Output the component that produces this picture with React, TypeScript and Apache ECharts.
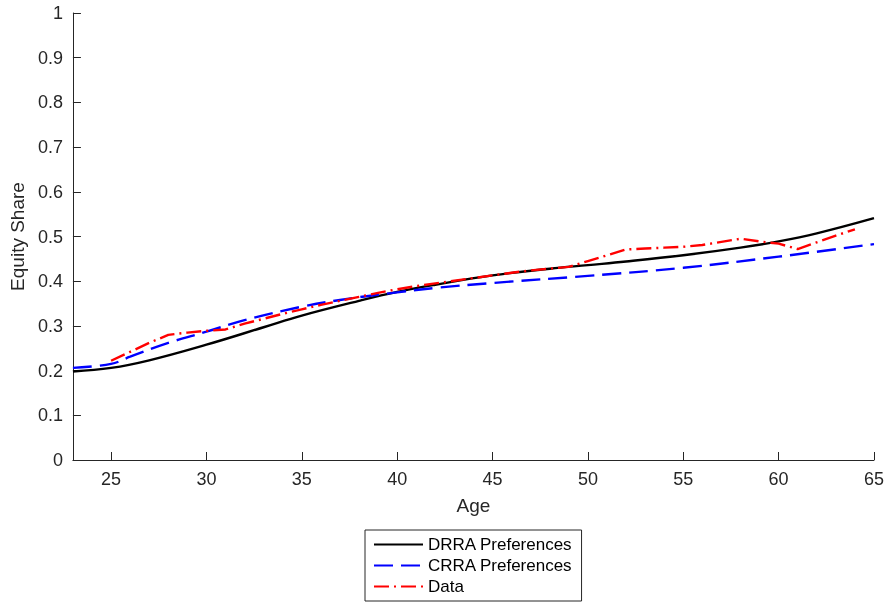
import React, { useEffect, useRef } from 'react';
import * as echarts from "echarts";

const ageTicks = [25, 30, 35, 40, 45, 50, 55, 60, 65];

const drraAges = [23, 25, 27, 30, 33, 35, 38, 40, 42, 45, 48, 50, 52, 55, 58, 60, 62, 65];
const drraValues = [0.198, 0.206, 0.223, 0.258, 0.297, 0.323, 0.356, 0.376, 0.392, 0.413, 0.428, 0.436, 0.444, 0.458, 0.475, 0.489, 0.507, 0.541];

const crraAges = [23, 25, 26, 28, 30, 32, 35, 37, 40, 42, 45, 50, 55, 60, 65];
const crraValues = [0.206, 0.215, 0.231, 0.262, 0.287, 0.313, 0.343, 0.358, 0.375, 0.385, 0.396, 0.412, 0.430, 0.455, 0.483];

const dataAges = [25, 26, 27, 28, 29, 30, 31, 32, 33, 34, 35, 36, 37, 38, 39, 40, 41, 42, 43, 44,
  45, 46, 47, 48, 49, 50, 51, 52, 53, 54, 55, 56, 57, 58, 59, 60, 61, 62, 63, 64];
const dataValues = [0.222, 0.242, 0.262, 0.280, 0.285, 0.289, 0.292, 0.305, 0.316, 0.327,
  0.337, 0.347, 0.356, 0.365, 0.374, 0.382, 0.389, 0.395, 0.401, 0.407,
  0.413, 0.419, 0.424, 0.428, 0.432, 0.445, 0.458, 0.471, 0.473, 0.475,
  0.477, 0.481, 0.488, 0.495, 0.489, 0.484, 0.472, 0.487, 0.502, 0.516];

const pairs = (xs: number[], ys: number[]) => xs.map((x, i) => [x, ys[i]]);

const axisColor = "#262626";
const font = "Liberation Sans, Arial, Helvetica, sans-serif";

const App = () => {
  const chartRef = useRef(null);

  useEffect(() => {
    const chart = echarts.init(chartRef.current, null, { renderer: "svg" });

    chart.setOption({
      animation: false,
      textStyle: { fontFamily: font },
      grid: { left: 72, right: 13, top: 13, bottom: 143 },
      legend: {
        orient: "vertical",
        left: 365,
        top: 530,
        borderColor: axisColor,
        borderWidth: 1,
        padding: [6, 9, 6, 8],
        itemWidth: 49,
        itemHeight: 14,
        itemGap: 4,
        itemStyle: { opacity: 0 },
        textStyle: { fontSize: 17, color: "#000", fontFamily: font },
        data: ["DRRA Preferences", "CRRA Preferences", "Data"],
      },
      xAxis: {
        type: "value",
        min: 23,
        max: 65,
        name: "Age",
        nameLocation: "middle",
        nameGap: 36,
        nameTextStyle: { fontSize: 19, color: axisColor },
        axisLine: { lineStyle: { color: axisColor, width: 1 } },
        axisTick: { inside: true, length: 8, customValues: ageTicks, lineStyle: { color: axisColor } },
        axisLabel: { customValues: ageTicks, fontSize: 18, color: axisColor, margin: 10 },
        splitLine: { show: false },
      },
      yAxis: {
        type: "value",
        min: 0,
        max: 1,
        interval: 0.1,
        name: "Equity Share",
        nameLocation: "middle",
        nameGap: 42,
        nameTextStyle: { fontSize: 19, color: axisColor },
        axisLine: { show: true, lineStyle: { color: axisColor, width: 1 } },
        axisTick: { show: true, inside: true, length: 8, lineStyle: { color: axisColor } },
        axisLabel: { fontSize: 18, color: axisColor, margin: 10 },
        splitLine: { show: false },
      },
      series: [
        {
          name: "DRRA Preferences",
          type: "line",
          data: pairs(drraAges, drraValues),
          smooth: 0.4,
          symbol: "none",
          lineStyle: { color: "#000", width: 2.4 },
          itemStyle: { color: "#000" },
        },
        {
          name: "CRRA Preferences",
          type: "line",
          data: pairs(crraAges, crraValues),
          smooth: 0.4,
          symbol: "none",
          lineStyle: { color: "#0000ff", width: 2.4, type: [19, 8] },
          itemStyle: { color: "#0000ff" },
        },
        {
          name: "Data",
          type: "line",
          data: pairs(dataAges, dataValues),
          symbol: "none",
          lineStyle: { color: "#ff0000", width: 2.4, type: [15, 5, 2, 5] },
          itemStyle: { color: "#ff0000" },
        },
      ],
    });

    return () => {
      chart.dispose();
    };
  }, []);

  return (
    <div ref={chartRef} style={{ position: "fixed", left: 0, top: 0, width: "887px", height: "603px" }}></div>
  );
};

export default App;
